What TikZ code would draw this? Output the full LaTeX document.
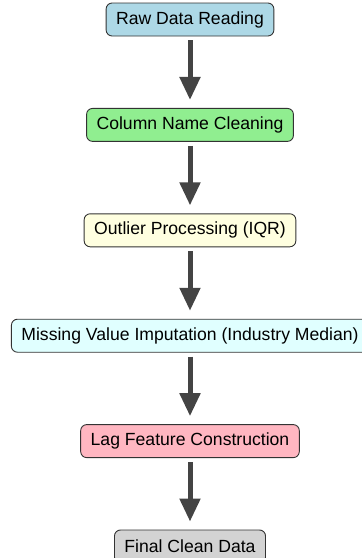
\documentclass[tikz,border=0pt]{standalone}
\usepackage{fontspec}
\setmainfont{Liberation Sans}
\usepackage{xcolor}
\usetikzlibrary{positioning,arrows.meta}
\definecolor{vborder}{HTML}{333333}
\definecolor{varrow}{HTML}{444444}
\definecolor{vblue}{HTML}{ADD8E6}
\definecolor{vgreen}{HTML}{90EE90}
\definecolor{vyellow}{HTML}{FFFFE0}
\definecolor{vcyan}{HTML}{E0FFFF}
\definecolor{vpink}{HTML}{FFB6C1}
\definecolor{vgray}{HTML}{D3D3D3}

\tikzset{
	stage/.style={draw=vborder, line width=0.9pt, rounded corners=6pt, minimum height=33pt, inner xsep=10pt, font=\fontsize{17.6}{20}\selectfont},
	flow/.style={draw=varrow, line width=5pt, -{Triangle[length=23pt,width=20pt]}, shorten <=4pt, shorten >=8pt}
}

\begin{document}
\begin{tikzpicture}[x=1pt, y=1pt, node distance=71.5pt]
		\useasboundingbox (0,0) rectangle (362,-558);
		\node[stage, fill=vblue] (raw) at (190,-19.5) {Raw Data Reading};
		\node[stage, fill=vgreen, below=of raw] (cols) {Column Name Cleaning};
		\node[stage, fill=vyellow, below=of cols] (outlier) {Outlier Processing (IQR)};
		\node[stage, fill=vcyan, below=of outlier] (missing) {Missing Value Imputation (Industry Median)};
		\node[stage, fill=vpink, below=of missing] (lag) {Lag Feature Construction};
		\node[stage, fill=vgray, below=of lag] (final) {Final Clean Data};
		\draw[flow] (raw) -- (cols);
		\draw[flow] (cols) -- (outlier);
		\draw[flow] (outlier) -- (missing);
		\draw[flow] (missing) -- (lag);
		\draw[flow] (lag) -- (final);
	\end{tikzpicture}
\end{document}
